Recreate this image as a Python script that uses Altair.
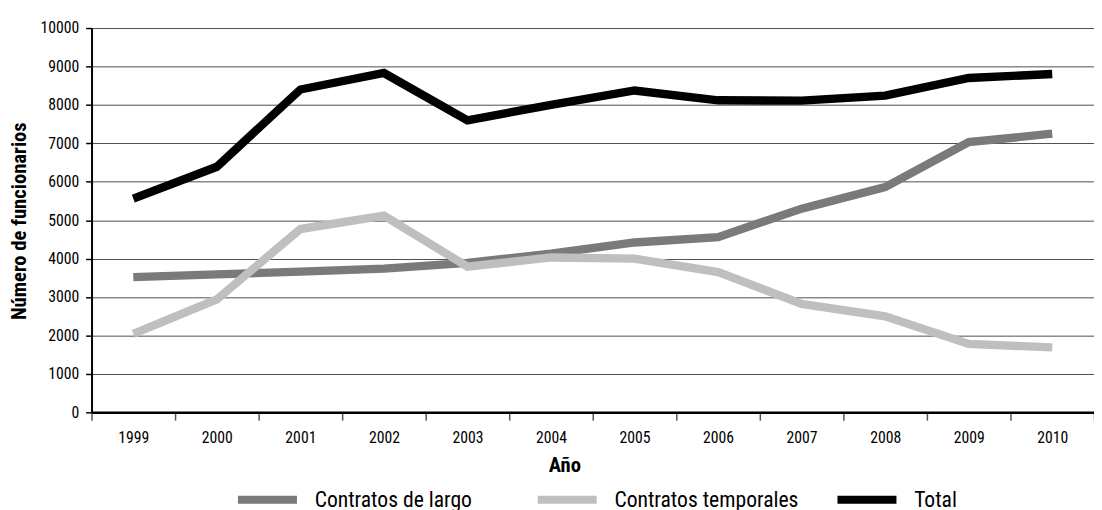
import altair as alt
import pandas as pd

years = ["1999", "2000", "2001", "2002", "2003", "2004", "2005", "2006", "2007", "2008", "2009", "2010"]
series = ["Contratos de largo", "Contratos temporales", "Total"]
colors = ["#7a7a7a", "#bfbfbf", "#000000"]
largo = [3520, 3590, 3660, 3740, 3890, 4130, 4420, 4560, 5300, 5860, 7030, 7250]
temporales = [2040, 2940, 4770, 5120, 3790, 4030, 4000, 3650, 2820, 2500, 1780, 1690]
total = [5560, 6390, 8400, 8830, 7600, 8000, 8375, 8120, 8110, 8240, 8700, 8805]
y_ticks = [0, 1000, 2000, 3000, 4000, 5000, 6000, 7000, 8000, 9000, 10000]

rows = []
for name, vals in zip(series, [largo, temporales, total]):
    for yr, v in zip(years, vals):
        rows.append({"anio": yr, "serie": name, "valor": v})
df = pd.DataFrame(rows)

FONT = "Roboto Condensed, DejaVu Sans Condensed, Liberation Sans"

chart = alt.Chart(df).mark_line(strokeWidth=8.5, strokeJoin="miter", strokeCap="butt").encode(
    x=alt.X(
        "anio:O",
        sort=years,
        scale=alt.Scale(paddingInner=0, paddingOuter=0),
        axis=alt.Axis(
            title="Año", labelAngle=0, tickBand="extent", grid=False,
            domainColor="#000000", domainWidth=2.5,
            tickColor="#555555", tickSize=8, tickWidth=1.5,
            labelFontSize=16, labelPadding=10, labelColor="#000000",
            titleFontSize=21, titleFontWeight="bold", titleColor="#000000",
            titleX=481, titleY=54, titleBaseline="middle", titleAlign="center",
        ),
    ),
    y=alt.Y(
        "valor:Q",
        scale=alt.Scale(domain=[0, 10000], nice=False, zero=True),
        axis=alt.Axis(
            title="Número de funcionarios", values=y_ticks, format="d",
            domainColor="#000000", domainWidth=2,
            tickColor="#000000", tickSize=6, tickWidth=1.5,
            gridColor="#4d4d4d", gridWidth=1,
            labelFontSize=16, labelPadding=7, labelColor="#000000",
            titleFontSize=21, titleFontWeight="bold", titleColor="#000000",
            titleAngle=270, titleX=-73, titleY=196, titleBaseline="middle", titleAlign="center",
        ),
    ),
    color=alt.Color(
        "serie:N",
        scale=alt.Scale(domain=series, range=colors),
        legend=alt.Legend(
            title=None, orient="none", legendX=145, legendY=446,
            direction="horizontal", columns=3, gridAlign="all",
            symbolType="stroke", symbolSize=3600, symbolStrokeWidth=8,
            labelFontSize=22, labelOffset=14, labelLimit=400, columnPadding=23, padding=0,
            labelColor="#000000",
        ),
    ),
).properties(
    width=1020, height=391,
    autosize=alt.AutoSizeParams(type="none"),
    padding={"left": 85, "top": 16, "right": 0, "bottom": 95},
).configure(font=FONT).configure_view(stroke=None)

chart.save("out.html", embed_options={"renderer": "svg", "actions": False})
